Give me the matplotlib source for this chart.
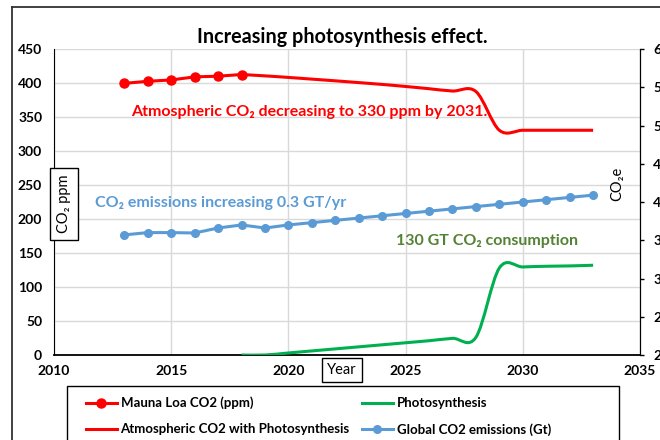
import matplotlib
matplotlib.use("Agg")
import matplotlib.pyplot as plt
from matplotlib.path import Path
from matplotlib.patches import PathPatch, Rectangle
from matplotlib.lines import Line2D
import numpy as np

plt.rcParams['font.family'] = ['Lato', 'DejaVu Sans']

# ---- data ----
years_ml = [2013, 2014, 2015, 2016, 2017, 2018]
mauna_loa = [399.5, 402.5, 404.5, 409.0, 410.0, 412.5]

years_sim = [2018, 2019, 2020, 2021, 2022, 2023, 2024, 2025, 2026, 2027,
             2028, 2029, 2030, 2031, 2032, 2033]
atm_with_photo = [412.5, 410.5, 408.2, 405.7, 403.2, 400.6, 397.9, 394.9, 391.6, 388.2,
                  387.5, 330.5, 330.5, 330.5, 330.5, 330.5]
photosynthesis = [0, 0, 3, 6, 9, 12, 15, 18, 21, 24.5,
                  26, 128, 129.5, 130.5, 131, 132]

years_em = list(range(2013, 2034))
emissions = [35.7, 36.0, 36.0, 35.95, 36.6, 37.0, 36.6, 37.0, 37.3, 37.6, 37.9,
             38.2, 38.5, 38.8, 39.1, 39.4, 39.7, 40.0, 40.3, 40.6, 40.9]

x_ticks = [2010, 2015, 2020, 2025, 2030, 2035]
left_ticks = list(range(0, 451, 50))
right_ticks = list(range(20, 61, 5))

RED = '#FF0000'
GREEN = '#00B050'
BLUE = '#5B9BD5'
TXT_GREEN = '#548235'


def smooth_path(xs, ys, k=1.0 / 6.0):
    pts = np.column_stack([xs, ys]).astype(float)
    n = len(pts)
    verts = [pts[0]]
    codes = [Path.MOVETO]
    for i in range(n - 1):
        p0 = pts[i - 1] if i > 0 else pts[i]
        p1 = pts[i]
        p2 = pts[i + 1]
        p3 = pts[i + 2] if i + 2 < n else pts[i + 1]
        c1 = p1 + (p2 - p0) * k
        c2 = p2 - (p3 - p1) * k
        verts += [c1, c2, p2]
        codes += [Path.CURVE4] * 3
    return Path(verts, codes)


W, H = 660, 440
fig = plt.figure(figsize=(6.6, 4.4), dpi=100)
ax = fig.add_axes([54 / W, 1 - 355 / H, (640 - 54) / W, (355 - 49) / H])
ax2 = ax.twinx()

ax.set_xlim(2010, 2035)
ax.set_ylim(0, 450)
ax2.set_ylim(20, 60)
ax.set_xticks(x_ticks)
ax.set_yticks(left_ticks)
ax2.set_yticks(right_ticks)

ax.grid(True, color='#D9D9D9', lw=1)
ax.set_axisbelow(True)

for a in (ax, ax2):
    a.spines['top'].set_visible(False)
ax.spines['left'].set_color('black')
ax.spines['bottom'].set_color('black')
ax.spines['bottom'].set_linewidth(1.3)
ax2.spines['right'].set_color('black')
ax2.spines['left'].set_visible(False)
ax2.spines['bottom'].set_visible(False)

ax.tick_params(axis='x', length=0, pad=7, labelsize=10)
ax.tick_params(axis='y', length=0, pad=8.5, labelsize=10)
ax2.tick_params(axis='y', length=3, width=1, direction='out', pad=6.5, labelsize=10)
for lab in ax.get_xticklabels() + ax.get_yticklabels() + ax2.get_yticklabels():
    lab.set_fontweight('bold')

# series
ax.plot(years_ml, mauna_loa, color=RED, lw=2.2, marker='o', ms=6.5, zorder=4)
ax.add_patch(PathPatch(smooth_path(years_sim, atm_with_photo), fc='none', ec=RED, lw=2.2, zorder=3))
ax.add_patch(PathPatch(smooth_path(years_sim, photosynthesis), fc='none', ec=GREEN, lw=2.2, zorder=3))
ax2.plot(years_em, emissions, color=BLUE, lw=2.2, marker='o', ms=5.5, zorder=4)

# annotations
ax.text(2013.3, 358, 'Atmospheric CO\u2082 decreasing to 330 ppm by 2031.', color=RED,
        fontsize=11.5, fontweight='bold', ha='left', va='center')
ax.text(2011.75, 224, 'CO\u2082 emissions increasing 0.3 GT/yr', color=BLUE,
        fontsize=11.5, fontweight='bold', ha='left', va='center')
ax.text(2024.6, 167, '130 GT CO\u2082 consumption', color=TXT_GREEN,
        fontsize=11.5, fontweight='bold', ha='left', va='center')

# title and axis labels
fig.text(342 / W, 1 - 37 / H, 'Increasing photosynthesis effect.', fontsize=14.2,
         fontweight='bold', ha='center', va='center')
fig.text(64 / W, 1 - 204 / H, 'CO\u2082 ppm', rotation=90, fontsize=10.5, ha='center', va='center',
         bbox=dict(boxstyle='square,pad=0.45', fc='white', ec='black', lw=1), zorder=10)
fig.text(342 / W, 1 - 370 / H, 'Year', fontsize=10.5, ha='center', va='center',
         bbox=dict(boxstyle='square,pad=0.35', fc='white', ec='black', lw=1), zorder=10)
fig.text(617 / W, 1 - 184 / H, 'CO\u2082e', rotation=90, fontsize=10.5, ha='center', va='center')

# outer chart frame
fig.add_artist(Line2D([12 / W, 1], [1 - 7 / H, 1 - 7 / H], transform=fig.transFigure,
                      color='#333333', lw=1.3))
fig.add_artist(Line2D([12 / W, 12 / W], [1 - 7 / H, 0], transform=fig.transFigure,
                      color='#333333', lw=1.3))

# legend
fig.add_artist(Rectangle((67 / W, -0.05), (619 - 67) / W, 1 - 386 / H + 0.05,
                         transform=fig.transFigure, fc='white', ec='black', lw=1))
handles = [
    Line2D([], [], color=RED, lw=2.2, marker='o', ms=6.5),
    Line2D([], [], color=RED, lw=2.2),
    Line2D([], [], color=GREEN, lw=2.2),
    Line2D([], [], color=BLUE, lw=2.2, marker='o', ms=5.5),
]
labels = ['Mauna Loa CO2 (ppm)', 'Atmospheric CO2 with Photosynthesis',
          'Photosynthesis', 'Global CO2 emissions (Gt)']
leg = fig.legend(handles, labels, loc='upper left', bbox_to_anchor=(79 / W, 1 - 390 / H),
                 ncol=2, frameon=False, borderpad=0, handlelength=2.4, handletextpad=0.25,
                 columnspacing=0.9, labelspacing=1.05,
                 prop={'weight': 'bold', 'size': 9.5})

fig.savefig('out.png', dpi=100)
